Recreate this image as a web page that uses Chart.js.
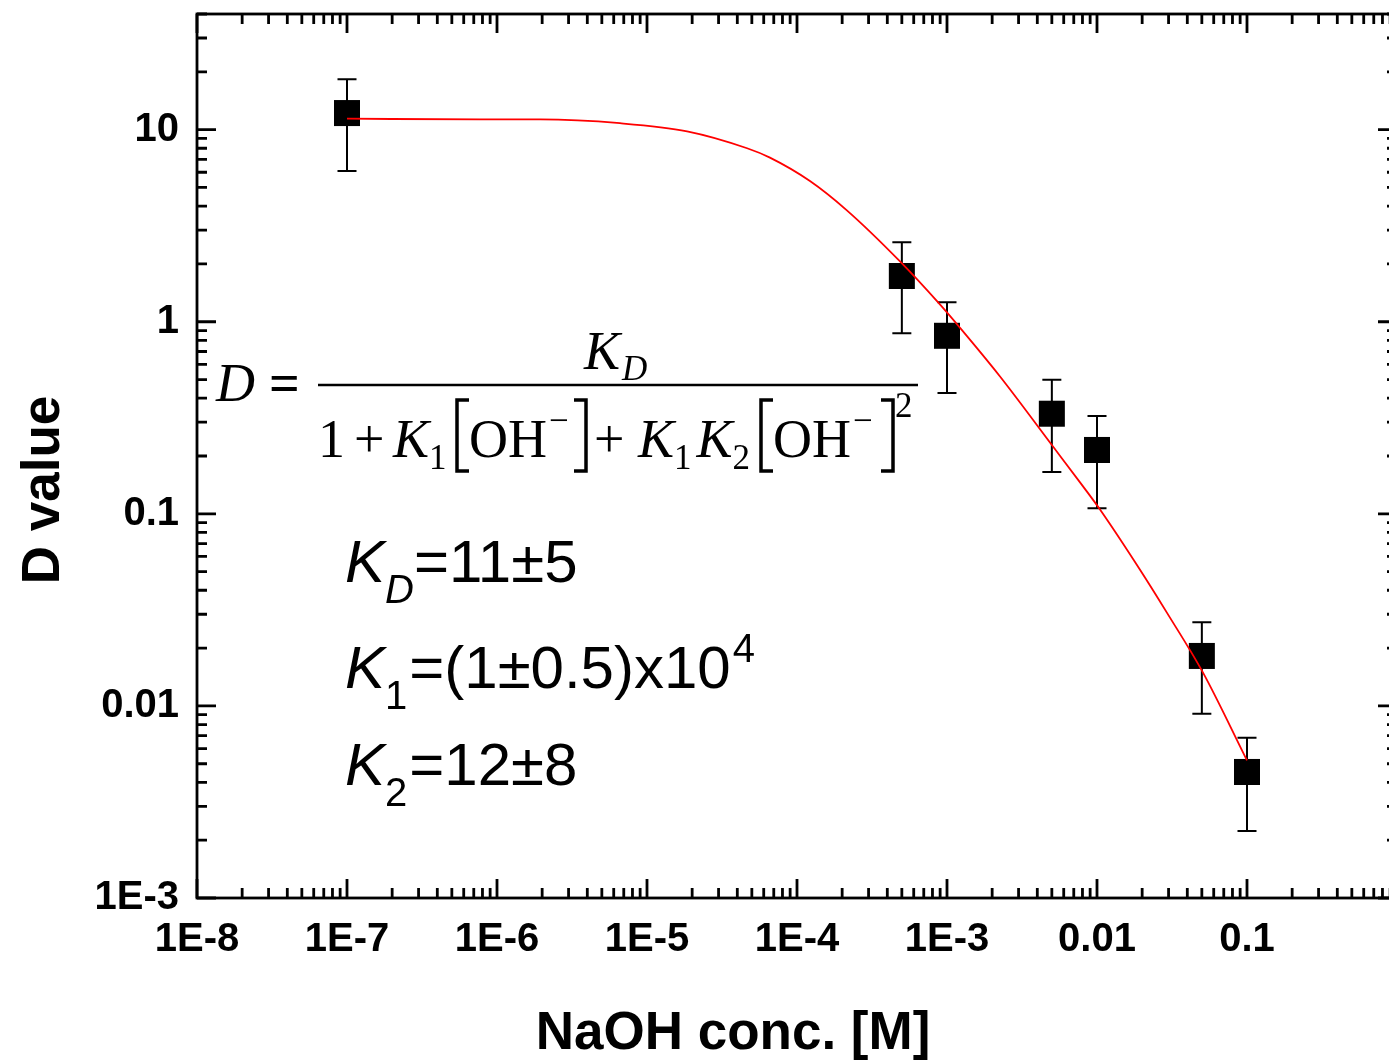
<!DOCTYPE html>
<html>
<head>
<meta charset="utf-8">
<script src="https://cdn.jsdelivr.net/npm/chart.js@4.4.0/dist/chart.umd.min.js"></script>
<style>
  html, body { margin: 0; padding: 0; background: #fff; overflow: hidden; }
  #wrap { width: 1400px; height: 1060px; }
</style>
</head>
<body>
<div id="wrap"><canvas id="dChart" width="1400" height="1060"></canvas></div>
<script>
// measured D values vs NaOH concentration
const naohConc = [1e-7, 5e-4, 1e-3, 5e-3, 1e-2, 5e-2, 0.1];
const dValue = [12.2, 1.73, 0.845, 0.332, 0.215, 0.0182, 0.00453];
const dError = [6.1, 0.86, 0.42, 0.167, 0.108, 0.0091, 0.0023];

// fitted curve
const fitConc = [1e-7, 7.7e-7, 1.94e-6, 6.6e-6, 1.85e-5, 4.65e-5, 6.6e-5, 1.22e-4, 2.15e-4, 4.86e-4,
                 8.97e-4, 1.22e-3, 2.25e-3, 5.09e-3, 8.07e-3, 1.05e-2, 1.94e-2, 2.93e-2, 5.09e-2, 0.1];
const fitD = [11.4, 11.3, 11.3, 10.8, 9.8, 8.0, 7.15, 5.4, 3.8, 2.06,
              1.23, 0.93, 0.52, 0.224, 0.139, 0.105, 0.051, 0.0305, 0.0149, 0.0052];

const xTickValues = [1e-8, 1e-7, 1e-6, 1e-5, 1e-4, 1e-3, 1e-2, 1e-1];
const xTickLabels = ['1E-8', '1E-7', '1E-6', '1E-5', '1E-4', '1E-3', '0.01', '0.1'];
const yTickValues = [1e-3, 1e-2, 1e-1, 1, 10];
const yTickLabels = ['1E-3', '0.01', '0.1', '1', '10'];

const sansFont = '"Liberation Sans", Arial, sans-serif';
const serifFont = '"Liberation Serif", "Times New Roman", serif';

function labelFor(values, labels) {
    return function (value) {
        for (let i = 0; i < values.length; i++) {
            if (Math.abs(Math.log10(value) - Math.log10(values[i])) < 1e-6) {
                return labels[i];
            }
        }
        return '';
    };
}

function logTicks(min, max) {
    const list = [];
    for (let e = Math.floor(Math.log10(min)); e <= Math.ceil(Math.log10(max)); e++) {
        for (let m = 1; m <= 9; m++) {
            const v = m * Math.pow(10, e);
            if (v >= min * 0.999 && v <= max * 1.001) {
                list.push({ v: v, major: m === 1 });
            }
        }
    }
    return list;
}

// frame with inward major/minor ticks on all four sides, plus axis titles
const framePlugin = {
    id: 'frame',
    afterDraw(chart) {
        const ctx = chart.ctx;
        const area = chart.chartArea;
        const xs = chart.scales.x;
        const ys = chart.scales.y;
        ctx.save();
        ctx.strokeStyle = '#000';
        ctx.lineWidth = 2.8;
        ctx.lineCap = 'butt';
        ctx.strokeRect(area.left, area.top, area.right - area.left, area.bottom - area.top);

        ctx.beginPath();
        logTicks(xs.min, xs.max).forEach(function (t) {
            const px = xs.getPixelForValue(t.v);
            const len = t.major ? 19 : 10;
            ctx.moveTo(px, area.bottom);
            ctx.lineTo(px, area.bottom - len);
            ctx.moveTo(px, area.top);
            ctx.lineTo(px, area.top + len);
        });
        logTicks(ys.min, ys.max).forEach(function (t) {
            const py = ys.getPixelForValue(t.v);
            const len = t.major ? 19 : 10;
            ctx.moveTo(area.left, py);
            ctx.lineTo(area.left + len, py);
            ctx.moveTo(area.right, py);
            ctx.lineTo(area.right - len, py);
        });
        ctx.stroke();

        // axis titles, placed as in the original figure
        ctx.fillStyle = '#000';
        ctx.font = 'bold 53px ' + sansFont;
        ctx.textAlign = 'center';
        ctx.textBaseline = 'alphabetic';
        ctx.fillText('NaOH conc. [M]', 733, 1049);

        ctx.translate(59, 490);
        ctx.rotate(-Math.PI / 2);
        ctx.fillText('D value', 0, 0);
        ctx.restore();
    }
};

const errorBarPlugin = {
    id: 'errorBars',
    beforeDatasetsDraw(chart) {
        const ctx = chart.ctx;
        const xs = chart.scales.x;
        const ys = chart.scales.y;
        ctx.save();
        ctx.strokeStyle = '#000';
        ctx.lineWidth = 2;
        ctx.beginPath();
        for (let i = 0; i < naohConc.length; i++) {
            const px = xs.getPixelForValue(naohConc[i]);
            const top = ys.getPixelForValue(dValue[i] + dError[i]);
            const bottom = ys.getPixelForValue(dValue[i] - dError[i]);
            ctx.moveTo(px, top);
            ctx.lineTo(px, bottom);
            ctx.moveTo(px - 9.5, top);
            ctx.lineTo(px + 9.5, top);
            ctx.moveTo(px - 9.5, bottom);
            ctx.lineTo(px + 9.5, bottom);
        }
        ctx.stroke();
        ctx.restore();
    }
};

function drawPieces(ctx, x, pieces) {
    pieces.forEach(function (p) {
        ctx.font = p.font;
        ctx.fillText(p.text, x, p.y);
        x += ctx.measureText(p.text).width + (p.gap || 0);
    });
    return x;
}

function drawBracket(ctx, x, top, bottom, open) {
    const w = 12;
    ctx.beginPath();
    if (open) {
        ctx.moveTo(x + w, top);
        ctx.lineTo(x, top);
        ctx.lineTo(x, bottom);
        ctx.lineTo(x + w, bottom);
    } else {
        ctx.moveTo(x - w, top);
        ctx.lineTo(x, top);
        ctx.lineTo(x, bottom);
        ctx.lineTo(x - w, bottom);
    }
    ctx.stroke();
}

const annotationPlugin = {
    id: 'annotations',
    afterDraw(chart) {
        const ctx = chart.ctx;
        ctx.save();
        ctx.fillStyle = '#000';
        ctx.strokeStyle = '#000';
        ctx.textBaseline = 'alphabetic';
        ctx.textAlign = 'left';

        const it = 'italic 54px ' + serifFont;
        const rm = '54px ' + serifFont;
        const sub = '35px ' + serifFont;
        const subIt = 'italic 35px ' + serifFont;

        // D = K_D / (1 + K1[OH-] + K1K2[OH-]^2)
        drawPieces(ctx, 216, [
            { text: 'D', font: it, y: 401, gap: 14 },
            { text: '=', font: 'bold 54px ' + serifFont, y: 401 }
        ]);
        ctx.lineWidth = 2.5;
        ctx.beginPath();
        ctx.moveTo(318, 385);
        ctx.lineTo(918, 385);
        ctx.stroke();

        drawPieces(ctx, 584, [
            { text: 'K', font: it, y: 369, gap: 2 },
            { text: 'D', font: subIt, y: 380 }
        ]);

        const base = 457;
        ctx.lineWidth = 3.5;
        drawPieces(ctx, 318, [{ text: '1', font: rm, y: base }]);
        drawPieces(ctx, 354, [{ text: '+', font: rm, y: base }]);
        drawPieces(ctx, 393, [
            { text: 'K', font: it, y: base },
            { text: '1', font: sub, y: base + 12 }
        ]);
        drawBracket(ctx, 457, 400, 471, true);
        drawPieces(ctx, 469, [
            { text: 'OH', font: rm, y: base, gap: 2 },
            { text: '\u2212', font: sub, y: 432 }
        ]);
        drawBracket(ctx, 586, 400, 471, false);
        drawPieces(ctx, 594, [{ text: '+', font: rm, y: base }]);
        drawPieces(ctx, 638, [
            { text: 'K', font: it, y: base },
            { text: '1', font: sub, y: base + 12, gap: 5 },
            { text: 'K', font: it, y: base },
            { text: '2', font: sub, y: base + 12 }
        ]);
        drawBracket(ctx, 761, 400, 471, true);
        drawPieces(ctx, 773, [
            { text: 'OH', font: rm, y: base, gap: 2 },
            { text: '\u2212', font: sub, y: 432 }
        ]);
        drawBracket(ctx, 893, 400, 471, false);
        drawPieces(ctx, 895, [{ text: '2', font: sub, y: 417 }]);

        // fitted constants
        const big = '60px ' + sansFont;
        const bigIt = 'italic 60px ' + sansFont;
        const small = '40px ' + sansFont;
        const smallIt = 'italic 40px ' + sansFont;
        drawPieces(ctx, 345, [
            { text: 'K', font: bigIt, y: 582 },
            { text: 'D', font: smallIt, y: 603 },
            { text: '=11\u00b15', font: big, y: 582 }
        ]);
        drawPieces(ctx, 345, [
            { text: 'K', font: bigIt, y: 688 },
            { text: '1', font: small, y: 709, gap: 2 },
            { text: '=(1\u00b10.5)x10', font: big, y: 688, gap: 2 },
            { text: '4', font: small, y: 662 }
        ]);
        drawPieces(ctx, 345, [
            { text: 'K', font: bigIt, y: 785 },
            { text: '2', font: small, y: 806, gap: 2 },
            { text: '=12\u00b18', font: big, y: 785 }
        ]);
        ctx.restore();
    }
};

function initChart() {
    const chartControl = document.getElementById('dChart');

    const pointData = naohConc.map(function (c, i) { return { x: c, y: dValue[i] }; });
    const fitData = fitConc.map(function (c, i) { return { x: c, y: fitD[i] }; });

    new Chart(chartControl, {
        type: 'scatter',
        data: {
            datasets: [
                {
                    label: 'Fit',
                    data: fitData,
                    showLine: true,
                    borderColor: '#ff0000',
                    borderWidth: 1.8,
                    pointRadius: 0,
                    cubicInterpolationMode: 'monotone',
                    order: 0
                },
                {
                    label: 'D value',
                    data: pointData,
                    pointStyle: 'rect',
                    pointRadius: 18.4,
                    backgroundColor: '#000',
                    borderColor: '#000',
                    borderWidth: 0,
                    order: 1
                }
            ]
        },
        options: {
            responsive: false,
            animation: false,
            layout: {
                autoPadding: false,
                padding: { left: 0, top: 14, right: 3, bottom: 0 }
            },
            scales: {
                x: {
                    type: 'logarithmic',
                    min: 1e-8,
                    max: 1,
                    afterFit: function (scale) {
                        scale.height = 162;
                        scale.paddingLeft = 0;
                        scale.paddingRight = 0;
                    },
                    afterBuildTicks: function (scale) {
                        scale.ticks = xTickValues.map(function (v) { return { value: v, major: true }; });
                    },
                    grid: { display: false, drawTicks: false },
                    border: { display: false },
                    ticks: {
                        autoSkip: false,
                        maxRotation: 0,
                        padding: 18,
                        color: '#000',
                        font: { family: sansFont, size: 40, weight: 'bold' },
                        callback: labelFor(xTickValues, xTickLabels)
                    },
                    title: { display: false }
                },
                y: {
                    type: 'logarithmic',
                    min: 1e-3,
                    max: 40,
                    afterFit: function (scale) {
                        scale.width = 197;
                        scale.paddingTop = 0;
                        scale.paddingBottom = 0;
                    },
                    afterBuildTicks: function (scale) {
                        scale.ticks = yTickValues.map(function (v) { return { value: v, major: true }; });
                    },
                    grid: { display: false, drawTicks: false },
                    border: { display: false },
                    ticks: {
                        autoSkip: false,
                        padding: 18,
                        color: '#000',
                        font: { family: sansFont, size: 40, weight: 'bold' },
                        callback: labelFor(yTickValues, yTickLabels)
                    },
                    title: { display: false }
                }
            },
            plugins: {
                legend: { display: false },
                tooltip: { enabled: false }
            }
        },
        plugins: [errorBarPlugin, framePlugin, annotationPlugin]
    });
}

initChart();
</script>
</body>
</html>
